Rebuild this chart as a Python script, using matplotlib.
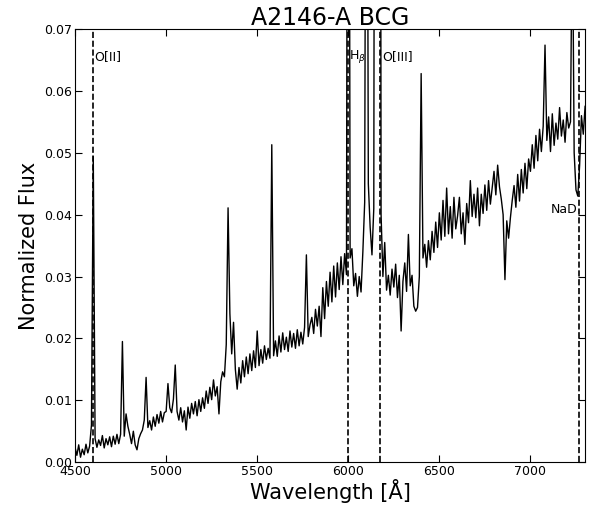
import numpy as np
import matplotlib
matplotlib.use('Agg')
import matplotlib.pyplot as plt

# spectrum of A2146-A BCG, sampled every 10 A from 4500 to 7300 A
# (flux values read off the original figure)
flux_4500 = [0.0024, 0.0011, 0.0028, 0.0008, 0.0021, 0.0012, 0.0029, 0.0015, 0.0026, 0.0060,
             0.0494, 0.0038, 0.0024, 0.0036, 0.0027, 0.0043, 0.0023, 0.0038, 0.0028, 0.0041,
             0.0025, 0.0042, 0.0029, 0.0045, 0.0030, 0.0045, 0.0195, 0.0042, 0.0078, 0.0058,
             0.0045, 0.0030, 0.0050, 0.0028, 0.0020, 0.0038, 0.0046, 0.0052, 0.0068, 0.0137,
             0.0056, 0.0067, 0.0052, 0.0073, 0.0058, 0.0077, 0.0063, 0.0082, 0.0065, 0.0080]
flux_5000 = [0.0082, 0.0127, 0.0088, 0.0080, 0.0102, 0.0157, 0.0082, 0.0068, 0.0088, 0.0065,
             0.0083, 0.0052, 0.0089, 0.0071, 0.0095, 0.0078, 0.0098, 0.0075, 0.0101, 0.0082,
             0.0104, 0.0087, 0.0115, 0.0095, 0.0121, 0.0101, 0.0133, 0.0107, 0.0122, 0.0078,
             0.0130, 0.0146, 0.0138, 0.0190, 0.0411, 0.0240, 0.0175, 0.0226, 0.0150, 0.0118,
             0.0153, 0.0128, 0.0164, 0.0138, 0.0170, 0.0143, 0.0175, 0.0148, 0.0180, 0.0153]
flux_5500 = [0.0212, 0.0156, 0.0182, 0.0160, 0.0188, 0.0166, 0.0184, 0.0168, 0.0513, 0.0172,
             0.0196, 0.0171, 0.0204, 0.0178, 0.0209, 0.0182, 0.0202, 0.0179, 0.0212, 0.0186,
             0.0208, 0.0184, 0.0214, 0.0188, 0.0210, 0.0191, 0.0218, 0.0335, 0.0203, 0.0222,
             0.0234, 0.0208, 0.0247, 0.0220, 0.0252, 0.0203, 0.0282, 0.0232, 0.0292, 0.0252,
             0.0307, 0.0259, 0.0317, 0.0267, 0.0322, 0.0279, 0.0332, 0.0287, 0.0337, 0.0303]
flux_6000 = [0.2000, 0.0330, 0.0345, 0.0285, 0.0305, 0.0268, 0.0300, 0.0275, 0.0340, 0.0420,
             0.1600, 0.0450, 0.0380, 0.0335, 0.0410, 0.2500, 0.3500, 0.3000, 0.0400, 0.0300,
             0.0355, 0.0278, 0.0302, 0.0270, 0.0312, 0.0283, 0.0320, 0.0266, 0.0302, 0.0212,
             0.0292, 0.0322, 0.0276, 0.0368, 0.0285, 0.0302, 0.0252, 0.0244, 0.0250, 0.0300,
             0.0628, 0.0330, 0.0352, 0.0315, 0.0358, 0.0327, 0.0373, 0.0339, 0.0388, 0.0347]
flux_6500 = [0.0403, 0.0359, 0.0423, 0.0365, 0.0443, 0.0369, 0.0413, 0.0362, 0.0428, 0.0377,
             0.0398, 0.0428, 0.0369, 0.0403, 0.0352, 0.0418, 0.0387, 0.0455, 0.0397, 0.0433,
             0.0395, 0.0443, 0.0382, 0.0433, 0.0402, 0.0448, 0.0407, 0.0455, 0.0417, 0.0443,
             0.0470, 0.0432, 0.0480, 0.0445, 0.0425, 0.0400, 0.0295, 0.0390, 0.0362, 0.0395,
             0.0423, 0.0447, 0.0412, 0.0465, 0.0422, 0.0473, 0.0435, 0.0483, 0.0442, 0.0490]
flux_7000 = [0.0470, 0.0513, 0.0475, 0.0528, 0.0487, 0.0538, 0.0502, 0.0543, 0.0674, 0.0520,
             0.0558, 0.0502, 0.0563, 0.0512, 0.0548, 0.0522, 0.0573, 0.0527, 0.0553, 0.0517,
             0.0565, 0.0540, 0.0550, 0.0900, 0.0500, 0.0440, 0.0430, 0.0480, 0.0560, 0.0530,
             0.0575]

flux = np.array(flux_4500 + flux_5000 + flux_5500 + flux_6000 + flux_6500 + flux_7000)
wave = 4500 + 10*np.arange(len(flux))

# redshifted lines
z = 0.2335
line_names = ['O[II]', r'H$_\beta$', 'O[III]', 'NaD']
line_rest = [3727., 4861., 5007., 5893.]

fig = plt.figure(figsize=(5.91, 5.09), dpi=100)
ax = fig.add_axes([0.127, 0.092, 0.863, 0.851])

ax.plot(wave, flux, '-', color='black', lw=1.0)

for name, rest in zip(line_names, line_rest):
    lam = rest*(1+z)
    ax.axvline(lam, color='black', ls='--', lw=1.2)
    if name == 'NaD':
        ax.text(lam-10, 0.0408, name, ha='right', va='center', fontsize=9)
    else:
        ax.text(lam+8, 0.0655, name, ha='left', va='center', fontsize=9)

ax.set_xlim(4500, 7300)
ax.set_ylim(0, 0.07)
ax.set_xticks([4500, 5000, 5500, 6000, 6500, 7000])
ax.set_yticks(np.arange(0, 0.071, 0.01))
ax.yaxis.set_major_formatter(matplotlib.ticker.FormatStrFormatter('%.2f'))
ax.tick_params(direction='in', top=True, right=True, labelsize=9, length=5, pad=2)

ax.set_xlabel(u'Wavelength [\u00c5]', fontsize=15, labelpad=1)
ax.set_ylabel('Normalized Flux', fontsize=15)
ax.set_title('A2146-A BCG', fontsize=17, pad=3)

fig.savefig('out.png', dpi=100)
